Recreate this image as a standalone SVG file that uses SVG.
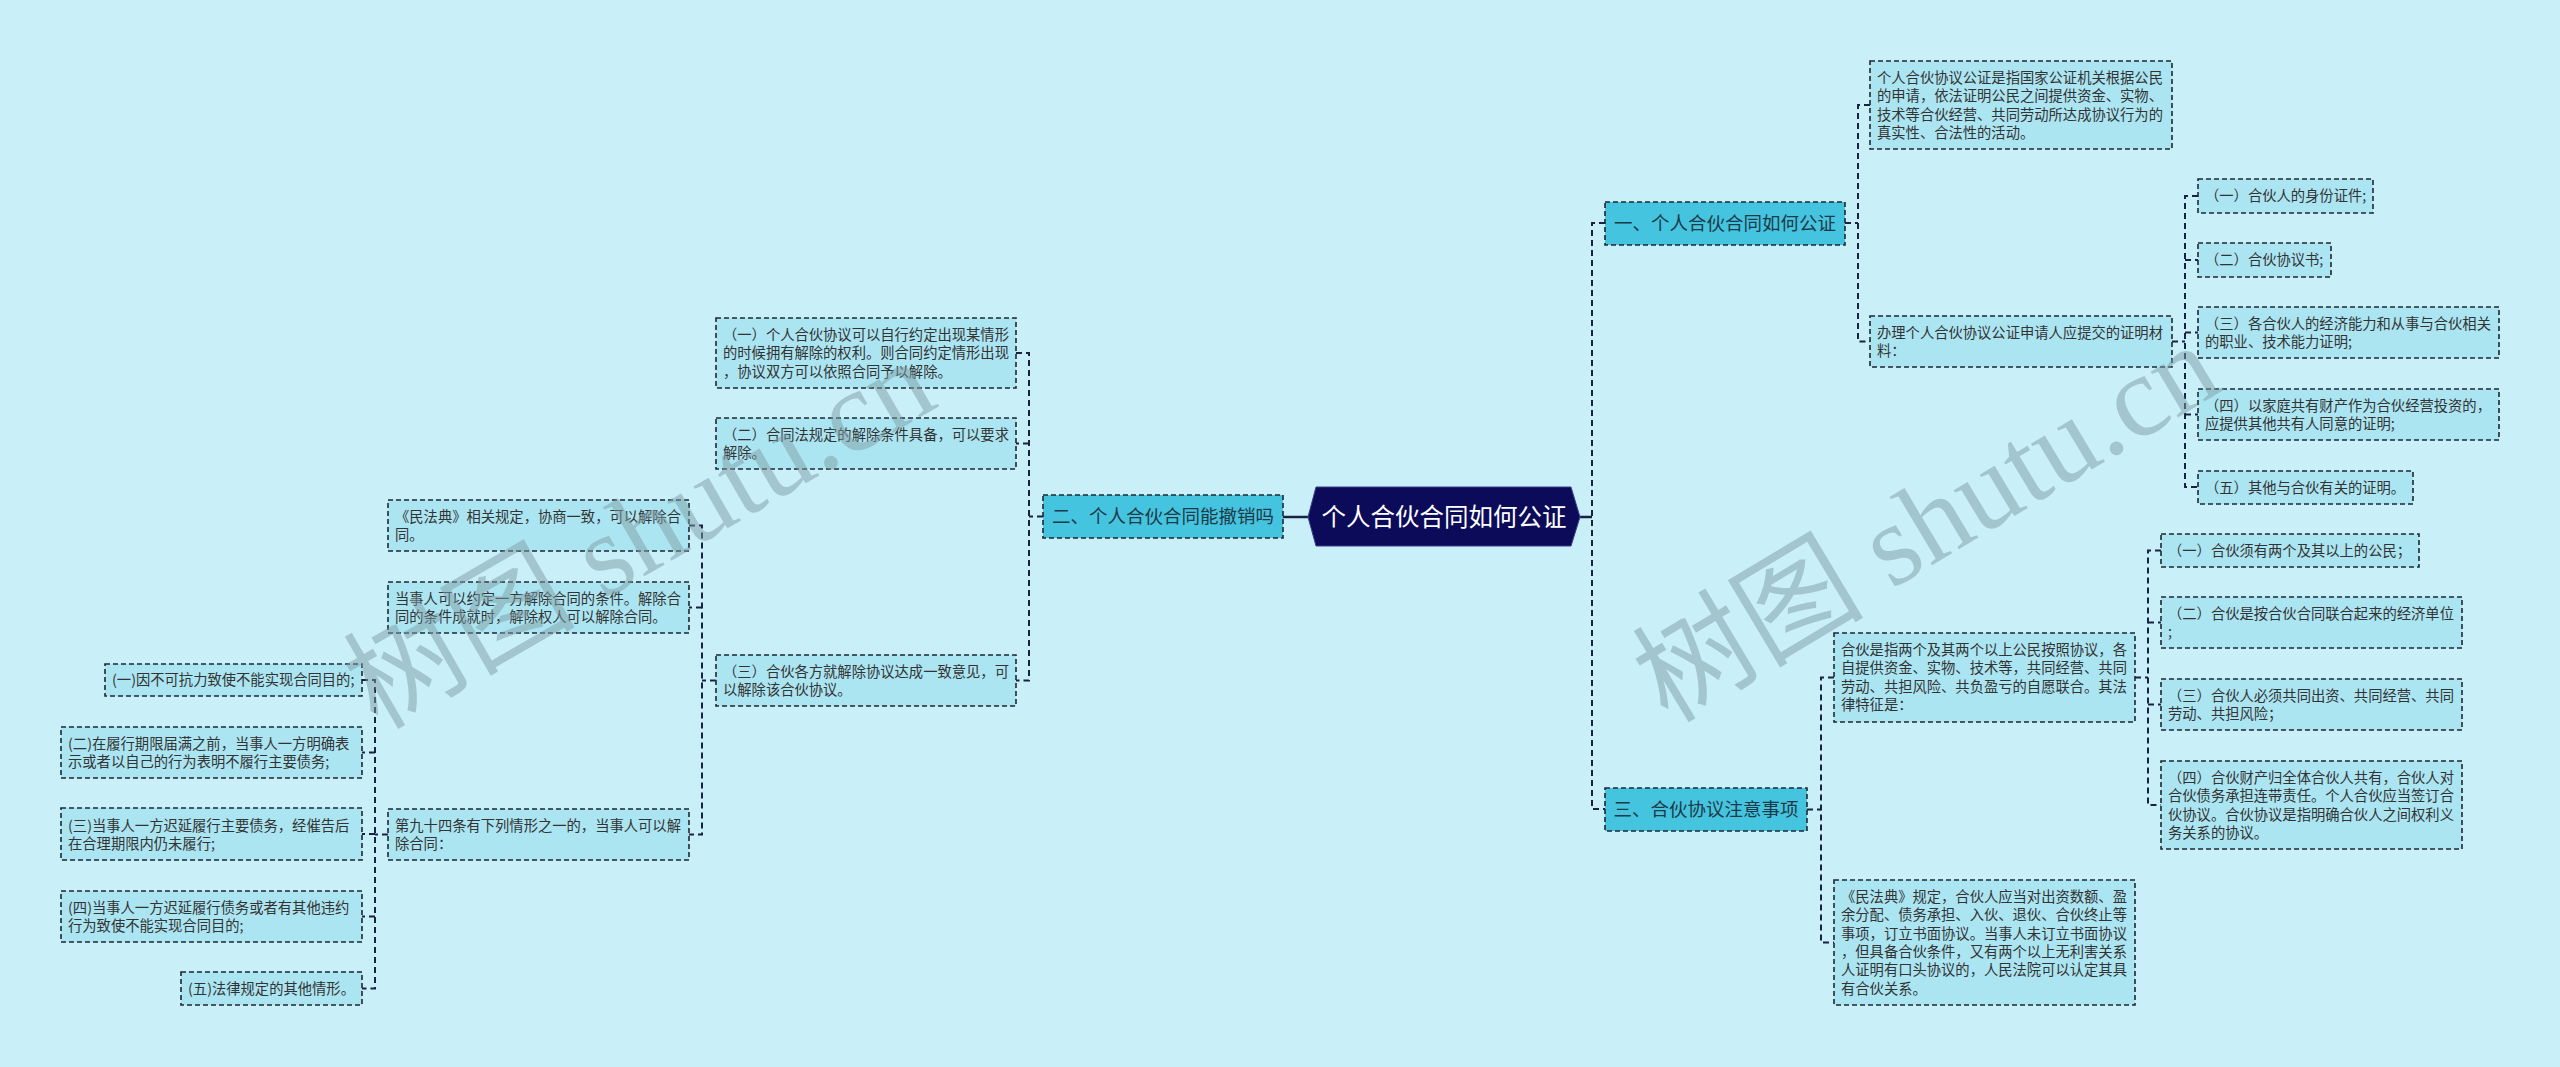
<svg xmlns="http://www.w3.org/2000/svg" width="2560" height="1067" viewBox="0 0 2560 1067">
<style>
.bg{fill:#c9f0f8}
.conn{fill:none;stroke:#1b2142;stroke-width:2;stroke-dasharray:6 4}
.solid{fill:none;stroke:#1b2142;stroke-width:2.5}
.box{fill:#ace5f2;stroke:#1e2733;stroke-width:1.6;stroke-dasharray:5 3}
.br{fill:#44c4df;stroke:#1e2733;stroke-width:1.6;stroke-dasharray:5 3}
.t{font-family:"Noto Sans CJK SC","Noto Sans",sans-serif;font-size:14.3px;fill:#333}
.bt{font-family:"Noto Sans CJK SC","Noto Sans",sans-serif;font-size:18.5px;fill:#1d3a48;text-anchor:middle}
.rt{font-family:"Noto Sans CJK SC","Noto Sans",sans-serif;font-size:24.5px;fill:#ffffff;text-anchor:middle}
.wm{font-family:"Liberation Serif","Noto Sans CJK SC",serif;font-size:116px;fill:#7f9ea6;opacity:0.5;text-anchor:middle}
</style>
<rect class="bg" x="0" y="0" width="2560" height="1067"/>

<g id="connectors">
<path class="solid" d="M1580,517 H1592"/>
<path class="solid" d="M1308,517 H1283"/>
<path class="conn" d="M1605,223 H1592 V809 H1605"/>
<path class="conn" d="M1845,223 H1858"/>
<path class="conn" d="M1870,105 H1858 V341.5 H1870"/>
<path class="conn" d="M2172,341.5 H2185"/>
<path class="conn" d="M2198,196 H2185 V487 H2198"/>
<path class="conn" d="M2185,260 H2198 M2185,332.5 H2198 M2185,414.5 H2198"/>
<path class="conn" d="M1807,809.5 H1821"/>
<path class="conn" d="M1834,677.5 H1821 V942.5 H1834"/>
<path class="conn" d="M2135,677.5 H2148"/>
<path class="conn" d="M2161,550.5 H2148 V805 H2161"/>
<path class="conn" d="M2148,622.5 H2161 M2148,704.5 H2161"/>
<path class="conn" d="M1043,516.5 H1029"/>
<path class="conn" d="M1016,353 H1029 V680.5 H1016"/>
<path class="conn" d="M1029,443.5 H1016"/>
<path class="conn" d="M716,680.5 H702"/>
<path class="conn" d="M689,525.5 H702 V834.5 H689"/>
<path class="conn" d="M702,607.5 H689"/>
<path class="conn" d="M388,834.5 H375"/>
<path class="conn" d="M362,680 H375 V988.5 H362"/>
<path class="conn" d="M375,752.5 H362 M375,834 H362 M375,916.5 H362"/>
</g>

<g id="root">
<polygon points="1308,517 1316,487 1571,487 1580,517 1571,546 1316,546" fill="#0b0b5a" stroke="#3a3f8a" stroke-width="1"/>
<text class="rt" x="1444" y="526">个人合伙合同如何公证</text>
</g>

<g id="b1">
<rect class="br" x="1605" y="202" width="240" height="43"/>
<text class="bt" x="1725" y="230">一、个人合伙合同如何公证</text>
</g>
<g id="a1">
<rect class="box" x="1870" y="61" width="302" height="88"/>
<text class="t"><tspan x="1877" y="83">个人合伙协议公证是指国家公证机关根据公民</tspan><tspan x="1877" y="101.3">的申请，依法证明公民之间提供资金、实物、</tspan><tspan x="1877" y="119.6">技术等合伙经营、共同劳动所达成协议行为的</tspan><tspan x="1877" y="137.9">真实性、合法性的活动。</tspan></text>
</g>
<g id="a2">
<rect class="box" x="1870" y="316" width="302" height="51"/>
<text class="t"><tspan x="1877" y="338">办理个人合伙协议公证申请人应提交的证明材</tspan><tspan x="1877" y="356.3">料：</tspan></text>
</g>
<g id="a2-1">
<rect class="box" x="2198" y="179" width="175" height="34"/>
<text class="t" x="2205" y="201">（一）合伙人的身份证件;</text>
</g>
<g id="a2-2">
<rect class="box" x="2198" y="243" width="133" height="34"/>
<text class="t" x="2205" y="265">（二）合伙协议书;</text>
</g>
<g id="a2-3">
<rect class="box" x="2198" y="307" width="301" height="51"/>
<text class="t"><tspan x="2205" y="329">（三）各合伙人的经济能力和从事与合伙相关</tspan><tspan x="2205" y="347.3">的职业、技术能力证明;</tspan></text>
</g>
<g id="a2-4">
<rect class="box" x="2198" y="389" width="301" height="51"/>
<text class="t"><tspan x="2205" y="411">（四）以家庭共有财产作为合伙经营投资的，</tspan><tspan x="2205" y="429.3">应提供其他共有人同意的证明;</tspan></text>
</g>
<g id="a2-5">
<rect class="box" x="2198" y="471" width="215" height="33"/>
<text class="t" x="2205" y="492.5">（五）其他与合伙有关的证明。</text>
</g>

<g id="b3">
<rect class="br" x="1605" y="788" width="202" height="43"/>
<text class="bt" x="1706" y="816">三、合伙协议注意事项</text>
</g>
<g id="d1">
<rect class="box" x="1834" y="633" width="301" height="89"/>
<text class="t"><tspan x="1841" y="655">合伙是指两个及其两个以上公民按照协议，各</tspan><tspan x="1841" y="673.3">自提供资金、实物、技术等，共同经营、共同</tspan><tspan x="1841" y="691.6">劳动、共担风险、共负盈亏的自愿联合。其法</tspan><tspan x="1841" y="709.9">律特征是：</tspan></text>
</g>
<g id="d2">
<rect class="box" x="1834" y="880" width="301" height="125"/>
<text class="t"><tspan x="1841" y="902">《民法典》规定，合伙人应当对出资数额、盈</tspan><tspan x="1841" y="920.3">余分配、债务承担、入伙、退伙、合伙终止等</tspan><tspan x="1841" y="938.6">事项，订立书面协议。当事人未订立书面协议</tspan><tspan x="1841" y="956.9">，但具备合伙条件，又有两个以上无利害关系</tspan><tspan x="1841" y="975.2">人证明有口头协议的，人民法院可以认定其具</tspan><tspan x="1841" y="993.5">有合伙关系。</tspan></text>
</g>
<g id="d1-1">
<rect class="box" x="2161" y="534" width="258" height="33"/>
<text class="t" x="2168" y="555.5">（一）合伙须有两个及其以上的公民；</text>
</g>
<g id="d1-2">
<rect class="box" x="2161" y="597" width="301" height="51"/>
<text class="t"><tspan x="2168" y="619">（二）合伙是按合伙合同联合起来的经济单位</tspan><tspan x="2168" y="637.3">;</tspan></text>
</g>
<g id="d1-3">
<rect class="box" x="2161" y="679" width="301" height="51"/>
<text class="t"><tspan x="2168" y="701">（三）合伙人必须共同出资、共同经营、共同</tspan><tspan x="2168" y="719.3">劳动、共担风险；</tspan></text>
</g>
<g id="d1-4">
<rect class="box" x="2161" y="761" width="301" height="88"/>
<text class="t"><tspan x="2168" y="783">（四）合伙财产归全体合伙人共有，合伙人对</tspan><tspan x="2168" y="801.3">合伙债务承担连带责任。个人合伙应当签订合</tspan><tspan x="2168" y="819.6">伙协议。合伙协议是指明确合伙人之间权利义</tspan><tspan x="2168" y="837.9">务关系的协议。</tspan></text>
</g>

<g id="b2">
<rect class="br" x="1043" y="495" width="240" height="43"/>
<text class="bt" x="1163" y="523">二、个人合伙合同能撤销吗</text>
</g>
<g id="c-b1">
<rect class="box" x="716" y="318" width="300" height="70"/>
<text class="t"><tspan x="723" y="340">（一）个人合伙协议可以自行约定出现某情形</tspan><tspan x="723" y="358.3">的时候拥有解除的权利。则合同约定情形出现</tspan><tspan x="723" y="376.6">，协议双方可以依照合同予以解除。</tspan></text>
</g>
<g id="c-b2">
<rect class="box" x="716" y="418" width="300" height="51"/>
<text class="t"><tspan x="723" y="440">（二）合同法规定的解除条件具备，可以要求</tspan><tspan x="723" y="458.3">解除。</tspan></text>
</g>
<g id="c-b3">
<rect class="box" x="716" y="655" width="300" height="51"/>
<text class="t"><tspan x="723" y="677">（三）合伙各方就解除协议达成一致意见，可</tspan><tspan x="723" y="695.3">以解除该合伙协议。</tspan></text>
</g>
<g id="c1">
<rect class="box" x="388" y="500" width="301" height="51"/>
<text class="t"><tspan x="395" y="522">《民法典》相关规定，协商一致，可以解除合</tspan><tspan x="395" y="540.3">同。</tspan></text>
</g>
<g id="c2">
<rect class="box" x="388" y="582" width="301" height="51"/>
<text class="t"><tspan x="395" y="604">当事人可以约定一方解除合同的条件。解除合</tspan><tspan x="395" y="622.3">同的条件成就时，解除权人可以解除合同。</tspan></text>
</g>
<g id="c3">
<rect class="box" x="388" y="809" width="301" height="51"/>
<text class="t"><tspan x="395" y="831">第九十四条有下列情形之一的，当事人可以解</tspan><tspan x="395" y="849.3">除合同：</tspan></text>
</g>
<g id="e1">
<rect class="box" x="105" y="664" width="257" height="32"/>
<text class="t" x="112" y="685">(一)因不可抗力致使不能实现合同目的;</text>
</g>
<g id="e2">
<rect class="box" x="61" y="727" width="301" height="51"/>
<text class="t"><tspan x="68" y="749">(二)在履行期限届满之前，当事人一方明确表</tspan><tspan x="68" y="767.3">示或者以自己的行为表明不履行主要债务;</tspan></text>
</g>
<g id="e3">
<rect class="box" x="61" y="808" width="301" height="52"/>
<text class="t"><tspan x="68" y="830.5">(三)当事人一方迟延履行主要债务，经催告后</tspan><tspan x="68" y="848.8">在合理期限内仍未履行;</tspan></text>
</g>
<g id="e4">
<rect class="box" x="61" y="891" width="301" height="51"/>
<text class="t"><tspan x="68" y="913">(四)当事人一方迟延履行债务或者有其他违约</tspan><tspan x="68" y="931.3">行为致使不能实现合同目的;</tspan></text>
</g>
<g id="e5">
<rect class="box" x="181" y="972" width="181" height="33"/>
<text class="t" x="188" y="993.5">(五)法律规定的其他情形。</text>
</g>

<g id="watermarks">
<text class="wm" transform="translate(640,535) rotate(-30)" x="0" y="38">树图 shutu.cn</text>
<text class="wm" transform="translate(1927,524) rotate(-31)" x="0" y="38">树图 shutu.cn</text>
</g>
</svg>
